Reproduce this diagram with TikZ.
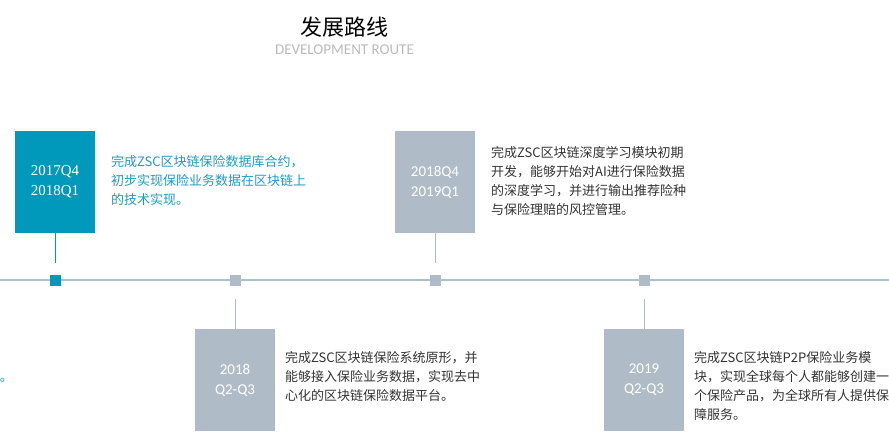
\documentclass[tikz,border=0pt]{standalone}
\usepackage{fontspec}
\usepackage{xcolor}
\newfontfamily\cjk{Noto Sans CJK SC}
\newfontfamily\latinsans{Carlito}
\newfontfamily\latinserif{Liberation Serif}
\definecolor{routeblue}{HTML}{0099BC}
\definecolor{routegray}{HTML}{AFBCC7}
\definecolor{routeline}{HTML}{A9C0D2}
\definecolor{descblue}{HTML}{1C9CC4}
\definecolor{textdark}{HTML}{333333}
\definecolor{subgray}{HTML}{BBBBBB}

\begin{document}
\begin{tikzpicture}[x=1pt, y=-1pt,
  period/.style={minimum width=80pt, minimum height=102pt, inner sep=0pt,
    text=white, align=center, font=\latinsans\fontsize{15}{20}\selectfont},
  milestone/.style={minimum size=11pt, inner sep=0pt},
  desc/.style={anchor=west, inner sep=0pt, align=left,
    font=\cjk\fontsize{13}{19}\selectfont, text=textdark},
  stem/.style={line width=1pt, draw=routegray}]
\useasboundingbox (0,0) rectangle (889,444);

% Title
\node[font=\cjk\fontsize{22}{24}\selectfont, text=black] (title) at (344.5,27) {发展路线};
\node[font=\latinsans\fontsize{15}{16}\selectfont, text=subgray] (subtitle) at (344.5,50) {DEVELOPMENT ROUTE};

% Timeline
\draw[routeline, line width=1.2pt] (0,280) -- (889,280);

% Milestones on the timeline
\foreach \x/\c/\n in {55/routeblue/1, 235/routegray/2, 435/routegray/3, 644/routegray/4} {
    \node[milestone, fill=\c] (m\n) at (\x,280.5) {};
}

% Periods above the line
\node[period, fill=routeblue, font=\latinserif\fontsize{15}{20}\selectfont] (p1) at (55,182) {2017Q4\\2018Q1};
\node[period, fill=routegray] (p3) at (435,182) {2018Q4\\2019Q1};
\draw[stem, draw=routeblue, shorten >=12pt] (p1.south) -- (m1.north);
\draw[stem, shorten >=12pt] (p3.south) -- (m3.north);

% Periods below the line
\node[period, fill=routegray] (p2) at (235,380) {2018\\Q2-Q3};
\node[period, fill=routegray] (p4) at (644,380) {2019\\Q2-Q3};
\draw[stem, shorten <=13pt] (m2.south) -- (p2.north);
\draw[stem, shorten <=13pt] (m4.south) -- (p4.north);

% Descriptions
\node[desc, text=descblue] (d1) at (111,181) {完成ZSC区块链保险数据库合约，\\初步实现保险业务数据在区块链上\\的技术实现。};
\node[desc] (d3) at (491,181.5) {完成ZSC区块链深度学习模块初期\\开发，能够开始对AI进行保险数据\\的深度学习，并进行输出推荐险种\\与保险理赔的风控管理。};
\node[desc] (d2) at (285,377) {完成ZSC区块链保险系统原形，并\\能够接入保险业务数据，实现去中\\心化的区块链保险数据平台。};
\node[desc] (d4) at (694,386) {完成ZSC区块链P2P保险业务模\\块，实现全球每个人都能够创建一\\个保险产品，为全球所有人提供保\\障服务。};
\node[desc, anchor=east, text=descblue] (d0) at (13,377) {用。};
\end{tikzpicture}
\end{document}
